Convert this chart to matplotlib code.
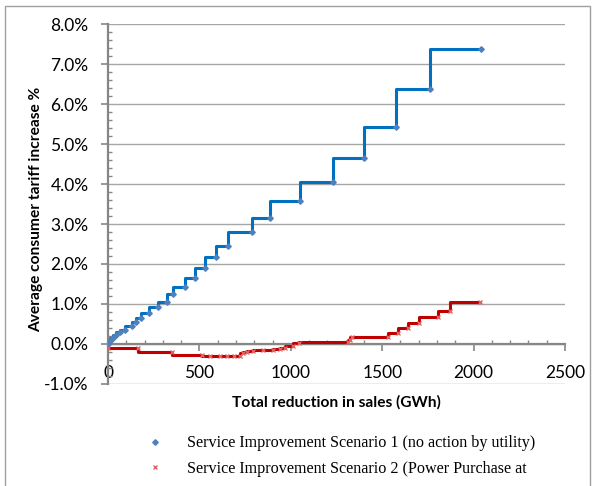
import matplotlib
matplotlib.use("Agg")
import matplotlib.pyplot as plt
from matplotlib.lines import Line2D
from matplotlib.patches import Rectangle
from matplotlib.ticker import MultipleLocator, FuncFormatter

# Scenario 1 (no action by utility): total reduction in sales (GWh) vs tariff increase (%)
s1_x = [0, 11, 26, 44, 66, 93, 130, 153, 178, 226, 272, 321, 354, 423, 476, 532,
        592, 656, 788, 886, 1048, 1233, 1402, 1574, 1762, 2039]
s1_y = [0.00, 0.08, 0.14, 0.22, 0.29, 0.35, 0.44, 0.54, 0.66, 0.78, 0.92, 1.06,
        1.24, 1.43, 1.65, 1.91, 2.17, 2.45, 2.80, 3.14, 3.57, 4.06, 4.65, 5.43,
        6.37, 7.37]

# Scenario 2 (power purchase ...)
s2_x = [0, 166, 348, 512, 560, 610, 650, 690, 722, 740, 760, 795, 850, 904, 940,
        968, 1014, 1045, 1315, 1325, 1333, 1533, 1588, 1643, 1703, 1807, 1871, 2035]
s2_y = [-0.09, -0.09, -0.20, -0.28, -0.29, -0.29, -0.30, -0.30, -0.29, -0.22,
        -0.20, -0.17, -0.16, -0.15, -0.13, -0.09, -0.05, 0.03, 0.04, 0.10, 0.17,
        0.17, 0.27, 0.39, 0.53, 0.68, 0.83, 1.05]

legend_labels = ["Service Improvement Scenario 1 (no action by utility)",
                 "Service Improvement Scenario 2 (Power Purchase at"]

fig = plt.figure(figsize=(5.92, 4.86), dpi=100)
ax = fig.add_axes([108/592, 1-384/486, (565-108)/592, (384-24)/486])

# outer chart border
fig.patches.append(Rectangle((5/592, -0.1), (590-5)/592, 1.1 - 6/486,
                             transform=fig.transFigure, fill=False,
                             edgecolor="#A0A0A0", linewidth=1.0))

ax.set_xlim(0, 2500)
ax.set_ylim(-1, 8)

ax.yaxis.set_major_locator(MultipleLocator(1))
ax.yaxis.set_minor_locator(MultipleLocator(0.2))
ax.xaxis.set_major_locator(MultipleLocator(500))
ax.xaxis.set_minor_locator(MultipleLocator(100))
ax.yaxis.set_major_formatter(FuncFormatter(lambda v, p: f"{v:.1f}%"))
ax.xaxis.set_major_formatter(FuncFormatter(lambda v, p: f"{int(v)}"))

ax.grid(axis="y", which="major", color="#A6A6A6", linewidth=1.0, zorder=0)
ax.set_axisbelow(True)

for s in ["top", "right"]:
    ax.spines[s].set_visible(False)
ax.spines["bottom"].set_position(("data", 0))
ax.spines["bottom"].set_color("#868686")
ax.spines["left"].set_color("#868686")
ax.spines["bottom"].set_linewidth(1.6)
ax.spines["left"].set_linewidth(1.6)

tick_font = "Lato"
ax.tick_params(axis="y", which="major", direction="out", length=5, color="#868686",
               width=1.2, labelsize=12.5, pad=9)
ax.tick_params(axis="y", which="minor", direction="in", length=3, color="#868686", width=1)
ax.tick_params(axis="x", which="major", direction="out", length=5, color="#868686",
               width=1.2, labelsize=12.5, pad=10)
ax.tick_params(axis="x", which="minor", direction="in", length=3, color="#868686", width=1)
for lab in ax.get_xticklabels() + ax.get_yticklabels():
    lab.set_fontfamily(tick_font)

ax.plot(s1_x, s1_y, drawstyle="steps-pre", color="#0070C0", linewidth=2.2,
        zorder=3)
ax.plot(s1_x, s1_y, linestyle="none", marker="D", markersize=2.8,
        color="#4F81BD", zorder=4)
ax.plot(s2_x, s2_y, drawstyle="steps-pre", color="#C00000", linewidth=2.2,
        zorder=3)
ax.plot(s2_x, s2_y, linestyle="none", marker="x", markersize=3.5,
        markeredgewidth=1.0, color="#E06666", zorder=4)

fig.text(36/592, 1-209/486, "Average consumer tariff increase %", rotation=90,
         ha="center", va="center", fontsize=11.2, fontweight="bold",
         family="Lato")
fig.text(336/592, 1-402/486, "Total reduction in sales (GWh)", ha="center",
         va="center", fontsize=11.2, fontweight="bold", family="Lato")

handles = [Line2D([], [], linestyle="none", marker="D", markersize=2.8, color="#4F81BD"),
           Line2D([], [], linestyle="none", marker="x", markersize=3.5,
                  markeredgewidth=1.0, color="#E06666")]
fig.legend(handles, legend_labels, loc="upper left",
           bbox_to_anchor=(140/592, 1-429/486), frameon=False,
           prop={"family": "Liberation Serif", "size": 11.6},
           handlelength=1.0, handletextpad=1.5, labelspacing=0.6,
           borderaxespad=0)

fig.savefig("out.png", dpi=100)
